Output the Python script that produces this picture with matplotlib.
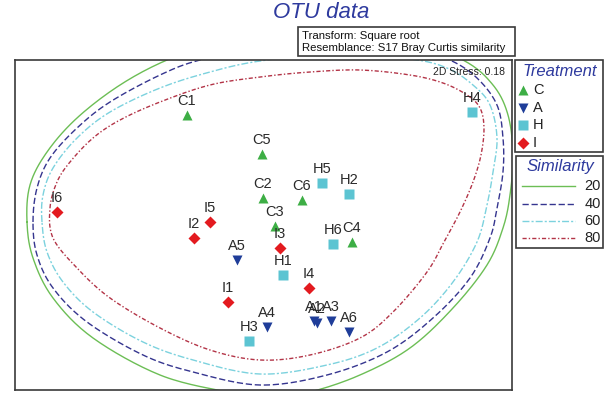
import numpy as np
import matplotlib.pyplot as plt
from matplotlib.lines import Line2D
from matplotlib.patches import Rectangle

plt.rcParams['font.family'] = ['Liberation Sans', 'DejaVu Sans']

W, H = 613, 394  # figure size in pixels

# Treatment groups and their nMDS coordinates
treatments = ['C', 'A', 'H', 'I']
names = {
    'C': ['C1', 'C2', 'C3', 'C4', 'C5', 'C6'],
    'A': ['A1', 'A2', 'A3', 'A4', 'A5', 'A6'],
    'H': ['H1', 'H2', 'H3', 'H4', 'H5', 'H6'],
    'I': ['I1', 'I2', 'I3', 'I4', 'I5', 'I6'],
}
mds_x = {
    'C': [-0.77, -0.01, 0.11, 0.88, -0.02, 0.38],
    'A': [0.50, 0.53, 0.67, 0.03, -0.27, 0.85],
    'H': [0.19, 0.85, -0.15, 2.08, 0.58, 0.69],
    'I': [-0.36, -0.70, 0.16, 0.45, -0.54, -2.07],
}
mds_y = {
    'C': [1.10, 0.27, -0.01, -0.17, 0.71, 0.25],
    'A': [-0.96, -0.98, -0.96, -1.02, -0.35, -1.07],
    'H': [-0.50, 0.31, -1.16, 1.13, 0.42, -0.19],
    'I': [-0.77, -0.13, -0.23, -0.63, 0.03, 0.13],
}

# Similarity contours (outline points, closed curves)
levels = [20, 40, 60, 80]
sim20_x = [-2.37, -2.34, -2.17, -1.87, -1.44, -0.97, -0.44, 0.36, 1.36, 1.99, 2.29, 2.44, 2.49,
           2.46, 2.39, 2.23, 1.89, 1.46, 0.96, 0.46, 0.04, -0.37, -1.04, -1.71, -2.11, -2.31]
sim20_y = [0.03, 0.40, 0.73, 1.07, 1.40, 1.65, 1.83, 1.93, 1.90, 1.65, 1.40, 1.10, 0.70,
           0.30, -0.03, -0.40, -0.83, -1.23, -1.50, -1.67, -1.73, -1.67, -1.50, -1.13, -0.73, -0.33]
sim40_x = [-2.31, -2.27, -2.14, -1.87, -1.54, -1.04, -0.64, -0.04, 0.71, 1.46, 1.86, 2.13, 2.33, 2.39,
           2.39, 2.33, 2.26, 2.06, 1.69, 1.23, 0.63, -0.04, -0.71, -1.21, -1.77, -2.11, -2.27]
sim40_y = [0.03, 0.37, 0.67, 0.97, 1.23, 1.50, 1.65, 1.76, 1.82, 1.79, 1.65, 1.47, 1.20, 0.87,
           0.53, 0.17, -0.13, -0.53, -0.93, -1.27, -1.50, -1.60, -1.47, -1.30, -0.97, -0.63, -0.30]
sim60_x = [-2.22, -2.21, -2.11, -1.87, -1.54, -1.04, -0.54, -0.04, 0.71, 1.46, 1.83, 2.09, 2.26, 2.33,
           2.29, 2.23, 2.13, 1.89, 1.56, 1.13, 0.63, -0.04, -0.71, -1.21, -1.71, -2.01, -2.17]
sim60_y = [0.03, 0.30, 0.57, 0.87, 1.13, 1.37, 1.53, 1.64, 1.71, 1.66, 1.57, 1.40, 1.20, 0.87,
           0.53, 0.20, -0.17, -0.57, -0.93, -1.23, -1.40, -1.49, -1.35, -1.17, -0.87, -0.57, -0.27]
sim80_x = [-2.14, -2.07, -1.94, -1.71, -1.44, -1.04, -0.54, -0.04, 0.46, 0.96, 1.46, 1.79, 2.03, 2.16, 2.20,
           2.17, 2.09, 1.96, 1.81, 1.63, 1.29, 0.96, 0.46, -0.04, -0.54, -1.04, -1.54, -1.87, -2.11]
sim80_y = [0.17, 0.43, 0.63, 0.87, 1.05, 1.23, 1.40, 1.48, 1.53, 1.55, 1.50, 1.42, 1.30, 1.17, 0.97,
           0.70, 0.43, 0.13, -0.15, -0.47, -0.87, -1.13, -1.30, -1.35, -1.25, -1.03, -0.73, -0.43, -0.13]
contours = {20: (sim20_x, sim20_y), 40: (sim40_x, sim40_y),
            60: (sim60_x, sim60_y), 80: (sim80_x, sim80_y)}

stress = 0.18

# Styles
marker_style = {
    'C': dict(marker='^', color='#3DAE45', ms=7.5),
    'A': dict(marker='v', color='#1F3D99', ms=7.5),
    'H': dict(marker='s', color='#5CC4D2', ms=6.5),
    'I': dict(marker='D', color='#E31A1F', ms=6),
}
line_style = {
    20: dict(color='#6CBE55', dashes=()),
    40: dict(color='#35358F', dashes=(4.5, 2)),
    60: dict(color='#7CD2DE', dashes=(5, 1.5, 1.5, 1.5)),
    80: dict(color='#B33447', dashes=(3, 1.5, 1, 1.5)),
}
title_blue = '#2E3A9E'
frame_col = '#3A3A3A'


def smooth_closed(xs, ys, n=16):
    """Periodic Catmull-Rom curve through the outline points."""
    p = np.column_stack([xs, ys])
    m = len(p)
    out = []
    t = np.linspace(0, 1, n, endpoint=False)[:, None]
    for i in range(m):
        p0, p1, p2, p3 = p[i - 1], p[i], p[(i + 1) % m], p[(i + 2) % m]
        seg = 0.5 * ((2 * p1) + (-p0 + p2) * t + (2 * p0 - 5 * p1 + 4 * p2 - p3) * t ** 2
                     + (-p0 + 3 * p1 - 3 * p2 + p3) * t ** 3)
        out.append(seg)
    out = np.vstack(out)
    out = np.vstack([out, out[:1]])
    return out[:, 0], out[:, 1]


def fx(px):
    return px / W


def fy(py):
    return 1 - py / H


fig = plt.figure(figsize=(W / 100, H / 100), dpi=100)
ax = fig.add_axes([fx(15), fy(390), (512 - 15) / W, (390 - 60) / H])
ax.set_xlim(-2.49, 2.48)
ax.set_ylim(-1.65, 1.65)
ax.set_xticks([])
ax.set_yticks([])
for s in ax.spines.values():
    s.set_color(frame_col)
    s.set_linewidth(1.2)

for lev in levels:
    cx, cy = smooth_closed(*contours[lev])
    ax.plot(cx, cy, lw=1.0, **line_style[lev])

for t in treatments:
    ax.plot(mds_x[t], mds_y[t], ls='none', mec='none', **marker_style[t])
    for nm, x, y in zip(names[t], mds_x[t], mds_y[t]):
        ax.annotate(nm, (x, y), xytext=(0, 7), textcoords='offset points',
                    ha='center', va='baseline', fontsize=10.5, color='#2A2A2A')

ax.text(0.985, 0.98, f'2D Stress: {stress}', transform=ax.transAxes,
        ha='right', va='top', fontsize=7.5, color='#222222')

# Title and info box
fig.text(fx(321), fy(13), 'OTU data', ha='center', va='center', fontsize=16,
         style='italic', color=title_blue)
fig.add_artist(Rectangle((fx(298), fy(56)), (515 - 298) / W, (56 - 27) / H,
                         transform=fig.transFigure, fill=False, ec=frame_col, lw=1.2))
fig.text(fx(302), fy(36), 'Transform: Square root', ha='left', va='center',
         fontsize=8.2, color='#111111')
fig.text(fx(302), fy(48), 'Resemblance: S17 Bray Curtis similarity', ha='left',
         va='center', fontsize=8.2, color='#111111')

# Treatment legend
fig.add_artist(Rectangle((fx(515), fy(152)), (603 - 515) / W, (152 - 60) / H,
                         transform=fig.transFigure, fill=False, ec=frame_col, lw=1.2))
fig.text(fx(560), fy(71), 'Treatment', ha='center', va='center', fontsize=12,
         style='italic', color=title_blue)
for i, t in enumerate(treatments):
    yy = 90 + i * 17.7
    fig.add_artist(Line2D([fx(523)], [fy(yy)], transform=fig.transFigure, ls='none',
                          mec='none', **marker_style[t]))
    fig.text(fx(533), fy(yy), t, ha='left', va='center', fontsize=10.5, color='#222222')

# Similarity legend
fig.add_artist(Rectangle((fx(516), fy(248)), (603 - 516) / W, (248 - 156) / H,
                         transform=fig.transFigure, fill=False, ec=frame_col, lw=1.2))
fig.text(fx(560), fy(166), 'Similarity', ha='center', va='center', fontsize=12,
         style='italic', color=title_blue)
for i, lev in enumerate(levels):
    yy = 186 + i * 17.5
    fig.add_artist(Line2D([fx(522), fx(575)], [fy(yy), fy(yy)], transform=fig.transFigure,
                          lw=1.0, **line_style[lev]))
    fig.text(fx(601), fy(yy), str(lev), ha='right', va='center', fontsize=10.5,
             color='#222222')

fig.savefig('out.png', dpi=100)
